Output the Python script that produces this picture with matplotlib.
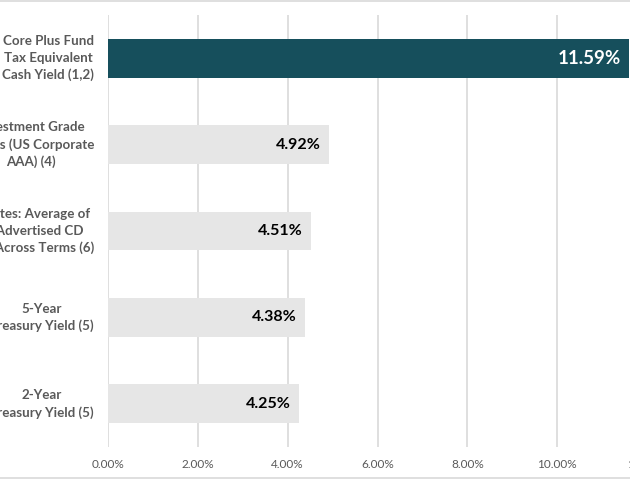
import numpy as np
import matplotlib.pyplot as plt
from matplotlib.lines import Line2D

plt.rcParams['font.family'] = ['Lato', 'DejaVu Sans']

labels = ['Core Plus Fund\nTax Equivalent\nCash Yield (1,2)',
          'Investment Grade\nBonds (US Corporate\nAAA) (4)',
          'CD Rates: Average of\nTop Advertised CD\nRates Across Terms (6)',
          '5-Year\nTreasury Yield (5)',
          '2-Year\nTreasury Yield (5)']
values = [11.59, 4.92, 4.51, 4.38, 4.25]
bar_colors = ['#164F5C', '#E6E6E6', '#E6E6E6', '#E6E6E6', '#E6E6E6']
ticks = [0, 2, 4, 6, 8, 10, 12]

fig = plt.figure(figsize=(6.3, 4.8), dpi=100)
W, H = 630, 480
x0 = 108
px_per = 44.93
ax = fig.add_axes([x0 / W, 1 - 447 / H, 12 * px_per / W, (447 - 15) / H])

y = np.arange(len(values))
ax.barh(y, values, height=0.45, color=bar_colors, zorder=3)
ax.set_xlim(0, 12)
ax.set_ylim(len(values) - 0.5, -0.5)
ax.set_xticks(ticks)
ax.set_xticklabels([f'{t:.2f}%' for t in ticks], color='#595959', fontsize=8.5)
ax.tick_params(axis='x', length=0, pad=9)
ax.set_yticks([])
ax.grid(axis='x', color='#D9D9D9', linewidth=1.2, zorder=0)
for s in ax.spines.values():
    s.set_visible(False)

for i, (lab, v) in enumerate(zip(labels, values)):
    ax.annotate(lab, xy=(0, i), xytext=(-14, 0), textcoords='offset pixels',
                ha='right', va='center', multialignment='center',
                fontsize=9.6, fontweight='bold', color='#595959', linespacing=1.45)
    if i == 0:
        ax.annotate(f'{v:.2f}%', xy=(v, i), xytext=(-8, 0), textcoords='offset pixels',
                    ha='right', va='center', fontsize=13.5, fontweight='bold', color='white')
    else:
        ax.annotate(f'{v:.2f}%', xy=(v, i), xytext=(-8, 0), textcoords='offset pixels',
                    ha='right', va='center', fontsize=11.5, fontweight='bold', color='black')

# chart area border (top and bottom edges visible in crop)
fig.add_artist(Line2D([0, 1], [1 - 1 / H, 1 - 1 / H], color='#D9D9D9', linewidth=1.2))
fig.add_artist(Line2D([0, 1], [2 / H, 2 / H], color='#D9D9D9', linewidth=1.2))

fig.savefig('out.png', dpi=100)
